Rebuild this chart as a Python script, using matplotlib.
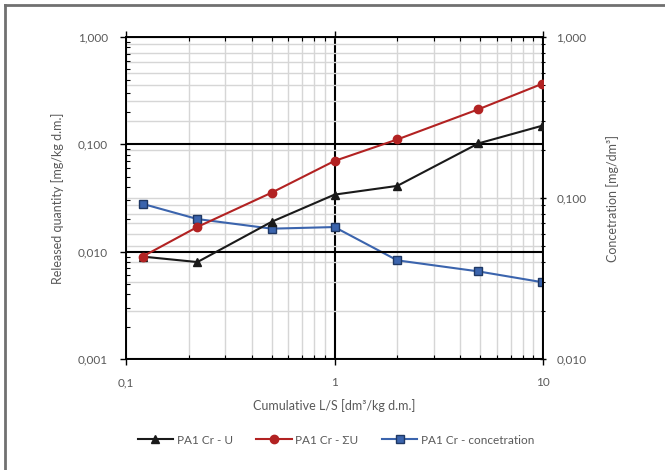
import numpy as np
import matplotlib
matplotlib.use("Agg")
import matplotlib.pyplot as plt
from matplotlib.ticker import LogLocator, FuncFormatter, NullFormatter
from matplotlib.lines import Line2D

plt.rcParams['font.family'] = ['Lato', 'DejaVu Sans']

# data
ls = [0.12, 0.22, 0.5, 1.0, 2.0, 4.9, 9.9]
u = [0.009, 0.008, 0.019, 0.034, 0.041, 0.102, 0.149]
sum_u = [0.009, 0.017, 0.0355, 0.070, 0.111, 0.212, 0.366]
conc = [0.092, 0.074, 0.0645, 0.066, 0.041, 0.035, 0.030]

txt = '#595959'

fig = plt.figure(figsize=(6.65, 4.70), dpi=100)
ax = fig.add_axes([126/665, 1-359/470, 417/665, 322/470])
ax.set_xscale('log')
ax.set_yscale('log')
ax.set_xlim(0.1, 10)
ax.set_ylim(0.001, 1)
ax.xaxis.set_minor_locator(LogLocator(base=10, subs=np.arange(2, 10)))
ax.xaxis.set_minor_formatter(NullFormatter())
ax.xaxis.set_major_formatter(FuncFormatter(lambda v, p: f"{v:g}".replace('.', ',')))

ax2 = ax.twinx()
ax2.set_yscale('log')
ax2.set_ylim(0.01, 1)
ax2.xaxis.set_visible(True)  # twinx hides it; needed for the vertical grid

# left axis on top of right one so its lines sit above the grid of ax2
ax.set_zorder(ax2.get_zorder() + 1)
ax.patch.set_visible(False)

# grids (gray ones on ax2, black major ones on ax)
ax2.yaxis.set_minor_locator(LogLocator(base=10, subs=np.arange(2, 10)))
ax2.grid(True, which='both', axis='y', color='#d6d6d6', lw=1.0)
ax2.grid(True, which='minor', axis='x', color='#d6d6d6', lw=1.0)
ax2.grid(True, which='major', axis='x', color='black', lw=1.5)

ax.set_axisbelow(True)
ax.grid(True, which='major', axis='y', color='black', lw=1.5)

l1, = ax.plot(ls, u, color='#1a1a1a', lw=1.5, marker='^', ms=6,
              label='PA1 Cr - U', zorder=3)
l2, = ax.plot(ls, sum_u, color='#b22222', lw=1.5, marker='o', ms=6,
              label='PA1 Cr - ΣU', zorder=4)
l3, = ax2.plot(ls, conc, color='#3b64ad', lw=1.5, marker='s', ms=6,
               mfc='#3b64ad', mec='#1f3864', label='PA1 Cr - concetration')

# ticks and labels
fmt3 = FuncFormatter(lambda v, p: f"{v:.3f}".replace('.', ','))
ax.yaxis.set_major_locator(LogLocator(base=10, numticks=10))
ax.yaxis.set_major_formatter(fmt3)
ax.yaxis.set_minor_locator(LogLocator(base=10, subs=np.arange(2, 10), numticks=10))
ax.yaxis.set_minor_formatter(NullFormatter())
ax2.yaxis.set_major_formatter(fmt3)
ax2.yaxis.set_minor_formatter(NullFormatter())

ax.tick_params(which='major', direction='out', length=4, width=1, labelsize=8.5,
               labelcolor=txt, top=True, pad=9)
ax.tick_params(axis='x', which='major', pad=9)
ax.tick_params(which='minor', direction='in', length=3, width=0.8, top=True)
ax2.tick_params(which='major', direction='inout', length=5, width=1, labelsize=8.5,
                labelcolor=txt, pad=7)
ax2.tick_params(which='minor', direction='inout', length=3, width=0.8)
ax2.tick_params(axis='x', which='both', bottom=False, top=False,
                labelbottom=False, labeltop=False)

for a in (ax, ax2):
    for s in a.spines.values():
        s.set_color('black')
        s.set_linewidth(1.2)

ax.set_xlabel('Cumulative L/S [dm³/kg d.m.]', fontsize=9, color=txt, labelpad=8)
ax.set_ylabel('Released quantity [mg/kg d.m.]', fontsize=9, color=txt, labelpad=10)
ax2.set_ylabel('Concetration [mg/dm³]', fontsize=9, color=txt, labelpad=14)

fig.legend(handles=[l1, l2, l3], loc='center', ncol=3, frameon=False,
           bbox_to_anchor=(336/665, 1-440/470), fontsize=8.5, labelcolor=txt,
           handlelength=3.0, columnspacing=2.0, handletextpad=0.3)

# outer frame (top and left edges visible)
fig.add_artist(Line2D([5/665, 5/665], [0, 1-4.5/470], transform=fig.transFigure,
                      color='#707070', lw=2))
fig.add_artist(Line2D([5/665, 1], [1-4.5/470, 1-4.5/470], transform=fig.transFigure,
                      color='#707070', lw=2))

fig.savefig('out.png', dpi=100)
